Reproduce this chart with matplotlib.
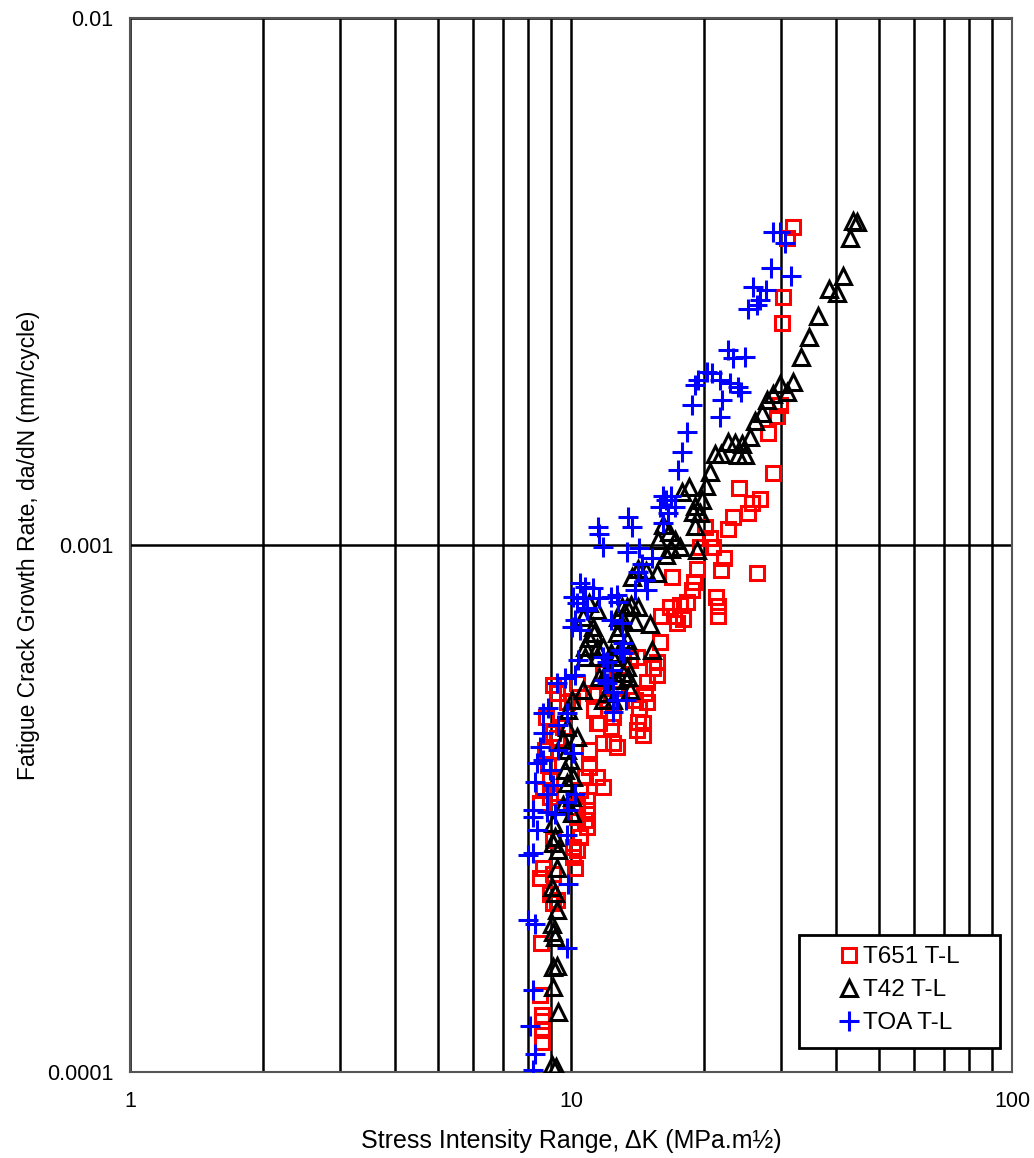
import numpy as np
import matplotlib
matplotlib.use("Agg")
import matplotlib.pyplot as plt
from matplotlib.ticker import FixedLocator, FixedFormatter, NullFormatter
from matplotlib.patches import Rectangle

plt.rcParams['font.family'] = ['Liberation Sans', 'DejaVu Sans']

# T651 T-L  (dK in MPa.m^0.5, da/dN in mm/cycle)
t651_dk = [31.9, 30.9, 30.25, 30.1, 29.8, 29.3, 28.0, 28.7, 24.0, 26.8, 25.7, 25.2, 23.3, 22.7,
           20.1, 20.7, 21.0, 19.6, 22.2, 26.4, 19.3, 21.9, 16.95, 19.0, 18.8, 21.3, 21.6, 21.5,
           18.3, 17.7, 16.8, 16.0, 17.1, 17.95, 17.4, 15.9, 14.1, 15.7, 15.35, 15.7, 14.9, 14.7,
           14.9, 14.6, 14.6, 12.7, 12.6, 11.45, 11.3, 11.45, 12.45, 12.3, 12.45, 12.7, 11.8, 11.0,
           11.0, 11.45, 10.76, 11.8, 10.5, 10.9, 10.9, 10.3, 10.9, 10.5, 10.1, 10.1, 10.2, 9.1,
           9.3, 9.8, 10.05, 8.8, 9.1, 10.3, 11.2, 12.1, 13.6, 14.0, 14.3, 11.6, 14.2, 14.1,
           9.6, 9.3, 8.64, 8.96, 8.5, 9.3, 10.3, 10.76, 9.1, 10.3, 8.64, 8.5, 9.1, 8.96, 9.3,
           9.1, 8.55, 8.5, 8.6, 8.6, 8.6, 8.6, 13.6, 11.8, 8.73, 8.87, 8.96]
t651_rate = [0.00401, 0.00382, 0.00296, 0.00264, 0.00184, 0.00176, 0.00163, 0.00137, 0.00128,
             0.00122, 0.00120, 0.00115, 0.00113, 0.00107, 0.00108, 0.00103, 0.00099, 0.00099,
             0.000946, 0.000885, 0.000901, 0.000897, 0.00087, 0.000851, 0.000822, 0.000797,
             0.000767, 0.000734, 0.00078, 0.00077, 0.000764, 0.000734, 0.000734, 0.000724,
             0.000711, 0.000654, 0.000613, 0.000599, 0.000584, 0.000567, 0.00055, 0.000524,
             0.000503, 0.00046, 0.000436, 0.000554, 0.000535, 0.00052, 0.000486, 0.00046,
             0.000472, 0.000452, 0.000421, 0.000414, 0.000421, 0.000408, 0.000379, 0.000363,
             0.000363, 0.000348, 0.000343, 0.000328, 0.000314, 0.000305, 0.000292, 0.000279,
             0.000267, 0.000256, 0.000244, 0.000543, 0.000524, 0.000503, 0.000506, 0.000472,
             0.00044, 0.000548, 0.000524, 0.000508, 0.000524, 0.000508, 0.00049, 0.00046,
             0.000462, 0.000446, 0.000452, 0.000431, 0.000343, 0.000333, 0.000324, 0.000318,
             0.000318, 0.000301, 0.000275, 0.000264, 0.000244, 0.000233, 0.000237, 0.000218,
             0.000212, 0.000209, 0.000176, 0.00014, 0.000128, 0.000125, 0.00012, 0.000114,
             0.000605, 0.000572, 0.000408, 0.000382, 0.000358]

# T42 T-L
t42_dk = [43.6, 44.5, 42.9, 41.4, 38.5, 40.1, 36.3, 34.65, 33.2, 31.9, 29.8, 30.9, 28.7, 27.8,
          27.1, 26.1, 25.5, 24.4, 23.5, 22.7, 21.9, 21.2, 24.8, 23.9, 20.7, 20.2, 18.5, 17.9,
          19.8, 19.1, 19.6, 18.9, 19.1, 19.3, 17.7, 16.2, 16.7, 17.2, 15.75, 16.9, 16.4, 14.2,
          14.8, 15.7, 13.75, 13.7, 14.2, 13.4, 15.1, 14.0, 12.8, 12.9, 11.3, 11.0, 10.76, 11.45,
          11.8, 12.3, 12.8, 13.6, 15.3, 13.4, 12.1, 11.6, 12.7, 13.5, 10.65, 12.1, 13.6, 10.05,
          11.8, 12.45, 11.0, 11.45, 10.65, 11.2, 13.05, 13.1, 12.7, 13.4, 10.76, 11.45, 12.45,
          13.1, 9.85, 9.8, 10.3, 9.6, 9.8, 9.95, 9.7, 10.1, 9.8, 10.05, 9.6, 10.05, 9.1, 9.2,
          9.1, 9.35, 9.3, 9.05, 9.2, 9.3, 9.05, 9.1, 9.2, 9.1, 9.3, 9.1, 9.35, 9.05, 9.25]
t42_rate = [0.00412, 0.0041, 0.00382, 0.00324, 0.00306, 0.00301, 0.00272, 0.00248, 0.00227,
            0.00204, 0.00202, 0.00195, 0.00193, 0.00188, 0.00178, 0.00172, 0.0016, 0.001555,
            0.00156, 0.00157, 0.00149, 0.00149, 0.00148, 0.00148, 0.001376, 0.001294, 0.00129,
            0.00126, 0.001217, 0.001186, 0.00115, 0.001155, 0.001087, 0.000978, 0.00099,
            0.00109, 0.00106, 0.001022, 0.001022, 0.000982, 0.000957, 0.000901, 0.000893,
            0.000885, 0.00087, 0.00077, 0.000764, 0.000764, 0.000708, 0.000715, 0.000731,
            0.000699, 0.000681, 0.000666, 0.000641, 0.000638, 0.000641, 0.000624, 0.000624,
            0.000632, 0.000632, 0.000587, 0.000579, 0.000562, 0.000554, 0.000562, 0.000531,
            0.000524, 0.000531, 0.000508, 0.000508, 0.000508, 0.000777, 0.000753, 0.000731,
            0.000699, 0.000764, 0.000721, 0.000681, 0.00066, 0.000613, 0.000613, 0.000613,
            0.000572, 0.000486, 0.000452, 0.000433, 0.000427, 0.000408, 0.000391, 0.000374,
            0.000363, 0.000353, 0.000333, 0.000321, 0.00031, 0.000297, 0.000279, 0.000272,
            0.000264, 0.000244, 0.000224, 0.000219, 0.000203, 0.000191, 0.000184, 0.00018,
            0.000158, 0.000159, 0.000145, 0.00013, 0.000103, 0.000102]

# TOA T-L
toa_dk = [28.7, 29.8, 30.6, 28.4, 31.55, 25.9, 27.7, 26.8, 26.4, 25.2, 22.7, 23.3, 24.8, 20.3,
          20.9, 19.4, 19.1, 21.8, 22.9, 23.9, 24.3, 18.8, 22.0, 21.8, 18.3, 17.9, 17.5, 16.2,
          16.9, 16.4, 17.2, 15.9, 16.6, 16.2, 13.5, 13.75, 11.5, 11.6, 11.8, 13.4, 14.3, 15.3,
          14.5, 14.2, 14.7, 14.0, 14.9, 10.76, 11.2, 10.1, 10.65, 11.6, 12.3, 12.8, 10.9, 10.2,
          10.05, 12.3, 13.05, 13.1, 10.4, 12.1, 12.4, 11.9, 9.7, 12.45, 12.7, 10.5, 10.3, 12.7,
          10.9, 10.5, 12.9, 11.8, 13.1, 12.1, 13.3, 12.45, 10.2, 9.3, 8.87, 8.64, 9.8, 9.35,
          8.64, 8.5, 9.35, 10.1, 8.64, 8.38, 8.96, 8.29, 9.1, 8.82, 10.2, 9.8, 8.2, 8.2, 9.2,
          8.38, 9.8, 8.2, 9.85, 8.82, 9.85, 8.0, 8.0, 8.29, 9.8, 8.2, 8.07, 8.29, 8.2]
toa_rate = [0.00392, 0.00392, 0.00374, 0.00335, 0.00324, 0.00309, 0.00305, 0.00292, 0.00285,
            0.0028, 0.00234, 0.00226, 0.00227, 0.00213, 0.00212, 0.00206, 0.00201, 0.00206,
            0.00203, 0.00199, 0.00195, 0.00184, 0.00188, 0.00175, 0.00164, 0.0015, 0.00139,
            0.00124, 0.00124, 0.001217, 0.00118, 0.00118, 0.00115, 0.0011, 0.00113, 0.00108,
            0.00108, 0.00105, 0.00099, 0.00097, 0.000987, 0.000946, 0.000921, 0.000889,
            0.000858, 0.000822, 0.000822, 0.000833, 0.000829, 0.000797, 0.000793, 0.000793,
            0.000797, 0.00078, 0.00076, 0.000721, 0.000699, 0.000721, 0.000711, 0.000652,
            0.000605, 0.000599, 0.000579, 0.000554, 0.00056, 0.000527, 0.000508, 0.000847,
            0.000777, 0.000804, 0.000753, 0.00069, 0.000632, 0.000613, 0.000624, 0.000548,
            0.000508, 0.000482, 0.000567, 0.000548, 0.00049, 0.00048, 0.00048, 0.000456,
            0.00044, 0.000414, 0.000408, 0.000403, 0.000391, 0.000386, 0.000374, 0.000355,
            0.00035, 0.000337, 0.000337, 0.000325, 0.000314, 0.000305, 0.000308, 0.000288,
            0.000282, 0.00026, 0.000227, 0.000311, 0.000314, 0.000258, 0.000194, 0.000191,
            0.000172, 0.000143, 0.000122, 0.000108, 0.000101]

fig = plt.figure(figsize=(10.34, 11.58), dpi=100)
ax = fig.add_axes([0.1257, 0.0743, 0.8530, 0.9102])

ax.plot(t651_dk, t651_rate, 's', ms=10, mfc='none', mec='#ff0000', mew=2.2, label='T651 T-L', zorder=3)
ax.plot(t42_dk, t42_rate, '^', ms=11.5, mfc='none', mec='black', mew=2.2, label='T42 T-L', zorder=3)
ax.plot(toa_dk, toa_rate, '+', ms=14, mec='#0000ff', mew=2.2, label='TOA T-L', zorder=3)

ax.set_xscale('log')
ax.set_yscale('log')
ax.set_xlim(1, 100)
ax.set_ylim(0.0001, 0.01)

ax.xaxis.set_major_locator(FixedLocator([1, 10, 100]))
ax.xaxis.set_major_formatter(FixedFormatter(['1', '10', '100']))
ax.xaxis.set_minor_locator(FixedLocator([2, 3, 4, 5, 6, 7, 8, 9, 20, 30, 40, 50, 60, 70, 80, 90]))
ax.xaxis.set_minor_formatter(NullFormatter())
ax.yaxis.set_major_locator(FixedLocator([0.0001, 0.001, 0.01]))
ax.yaxis.set_major_formatter(FixedFormatter(['0.0001', '0.001', '0.01']))
ax.yaxis.set_minor_locator(FixedLocator([]))

ax.grid(True, which='major', color='black', lw=1.8)
ax.grid(True, which='minor', axis='x', color='black', lw=1.8)
ax.set_axisbelow(True)
ax.tick_params(which='both', length=0, labelsize=15.5, pad=14)
ax.tick_params(axis='y', pad=12)
for s in ax.spines.values():
    s.set_color('#555555')
    s.set_linewidth(1.5)

ax.set_xlabel('Stress Intensity Range, \u0394K (MPa.m\u00bd)', fontsize=18, labelpad=12)
ax.set_ylabel('Fatigue Crack Growth Rate, da/dN (mm/cycle)', fontsize=16.5, labelpad=5)

# legend box
box = Rectangle((0.7585, 0.0228), 0.228, 0.1072, transform=ax.transAxes,
                facecolor='white', edgecolor='black', lw=2, zorder=4)
ax.add_patch(box)
leg = ax.legend(loc='center left', bbox_to_anchor=(0.792, 0.0775), frameon=False,
                fontsize=17.5, handlelength=0.7, handletextpad=0.2, labelspacing=0.45,
                borderpad=0)
leg.set_zorder(5)

fig.savefig('out.png', dpi=100)
